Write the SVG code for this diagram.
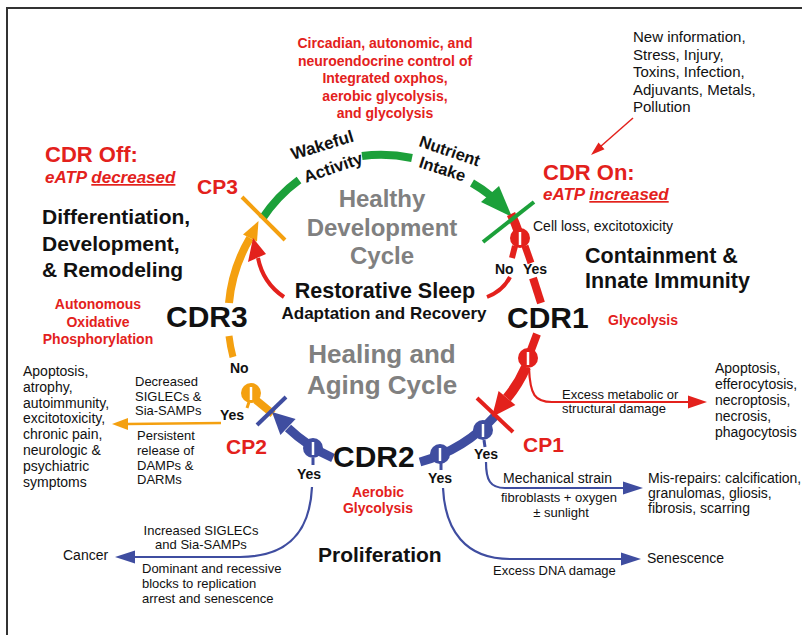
<svg xmlns="http://www.w3.org/2000/svg" width="802" height="635" viewBox="0 0 802 635">
<style>
text{font-family:"Liberation Sans",Arial,Helvetica,sans-serif;fill:#111}
.b{font-weight:bold}
.r{fill:#E3211C}
.gr{fill:#808080}
.c{text-anchor:middle}
.thr{stroke:#E3211C;fill:none}
.thg{stroke:#1CA03A;fill:none}
.tho{stroke:#F4A010;fill:none}
.thb{stroke:#3F4DA0;fill:none}
.wl{stroke:#fff;stroke-width:2.5}
</style>
<rect x="0" y="0" width="802" height="635" fill="#fff"/>
<path d="M7 635 V8 H802" fill="none" stroke="#333" stroke-width="2"/>

<g id="connectors">
  <!-- green healthy arc -->
  <path class="thg" stroke-width="8" d="M262 219 A152 152 0 0 1 299 180"/>
  <path class="thg" stroke-width="8" d="M362 156 A152 152 0 0 1 412 158"/>
  <path class="thg" stroke-width="8" d="M472 183 A152 152 0 0 1 491 196"/>
  <polygon fill="#1CA03A" points="481,202 499,186 512,217"/>
  <!-- orange -->
  <path class="tho" stroke-width="8" d="M229 303 A155 155 0 0 1 250 238"/>
  <polygon fill="#F4A010" points="243,234.5 257,241.5 258.5,221"/>
  <path class="tho" stroke-width="7" d="M229 336 A155 155 0 0 0 233 357"/>
  <path class="tho" stroke-width="8" d="M256 400 L273 414"/>
  <path class="tho" stroke-width="3" d="M249 402 L247 408"/>
  <path class="tho" stroke-width="2.5" d="M221 423 L127 424"/>
  <polygon fill="#F4A010" points="128,418 128,430 112,424"/>
  <!-- blue -->
  <path class="thb" stroke-width="9" d="M496 415 A158 158 0 0 1 420 462"/>
  <path class="thb" stroke-width="9" d="M333 458 A158 158 0 0 1 288 428"/>
  <polygon fill="#3F4DA0" points="295.6,419 280.4,435 272,412"/>
  <path class="thb" stroke-width="3" d="M484 440 L485 447"/>
  <path class="thb" stroke-width="3" d="M441 463 L441 470"/>
  <path class="thb" stroke-width="3" d="M313 458 L313 465"/>
  <path class="thb" stroke-width="2.2" d="M486 462 C486 480 490 488 505 488 L624 488"/>
  <polygon fill="#3F4DA0" points="623,481.5 623,494.5 643,488"/>
  <path class="thb" stroke-width="2.2" d="M443 488 C445 530 465 559 510 559 L622 559"/>
  <polygon fill="#3F4DA0" points="621,552.5 621,565.5 641,559"/>
  <path class="thb" stroke-width="2.2" d="M312 487 C310 530 290 557 240 557 L134 557"/>
  <polygon fill="#3F4DA0" points="135,550.5 135,563.5 115,557"/>
  <!-- red -->
  <path class="thr" stroke-width="9" d="M511 214 A152 152 0 0 1 518 231"/>
  <path class="thr" stroke-width="6" d="M515 246 L512 258"/>
  <path class="thr" stroke-width="7" d="M525 246 L531 263"/>
  <path class="thr" stroke-width="8" d="M533 278 L541 303"/>
  <path class="thr" stroke-width="8" d="M537 334 L531 350"/>
  <path class="thr" stroke-width="10" d="M526 367 Q518 385 507 398"/>
  <polygon fill="#E3211C" points="498.6,390.9 515.4,405.1 492,417"/>
  <path class="thr" stroke-width="2.2" d="M529 368 C530 395 535 402 552 402 L688 402"/>
  <polygon fill="#E3211C" points="688,395.5 688,408.5 707,402"/>
  <path class="thr" stroke-width="4" d="M510 277 Q503 291 487 297"/>
  <path class="thr" stroke-width="4" d="M284 297 Q263 283 258 258"/>
  <polygon fill="#E3211C" points="248,262 266,254 253,238"/>
  <path class="thr" stroke-width="1.5" d="M633 118 L600 147"/>
  <polygon fill="#E3211C" points="604.5,149.2 598.5,142.4 591,155"/>
  <!-- valves -->
  <circle cx="520" cy="238" r="10" fill="#E3211C"/>
  <line class="wl" x1="520" y1="232" x2="520" y2="245"/>
  <circle cx="528" cy="358" r="10" fill="#E3211C"/>
  <line class="wl" x1="528" y1="352" x2="528" y2="365"/>
  <circle cx="251" cy="393" r="10" fill="#F4A010"/>
  <line class="wl" x1="251" y1="387" x2="251" y2="400"/>
  <circle cx="483" cy="430" r="10" fill="#3F4DA0"/>
  <line class="wl" x1="483" y1="424" x2="483" y2="437"/>
  <circle cx="440" cy="454" r="10" fill="#3F4DA0"/>
  <line class="wl" x1="440" y1="448" x2="440" y2="461"/>
  <circle cx="313" cy="448" r="10" fill="#3F4DA0"/>
  <line class="wl" x1="313" y1="442" x2="313" y2="455"/>
  <!-- checkpoints -->
  <path class="tho" stroke-width="4" d="M242 197 L285 240"/>
  <path class="thg" stroke-width="4" d="M483 242 L534 202"/>
  <path class="thb" stroke-width="4" d="M286 397 L257 425"/>
  <path class="thr" stroke-width="4" d="M477 398 L513 432"/>
</g>

<g id="top-control">
  <text class="b r c" font-size="14"><tspan x="385" y="48">Circadian, autonomic, and</tspan><tspan x="385" y="65.5">neuroendocrine control of</tspan><tspan x="385" y="83">Integrated oxphos,</tspan><tspan x="385" y="100.5">aerobic glycolysis,</tspan><tspan x="385" y="118">and glycolysis</tspan></text>
</g>
<g id="triggers">
  <text font-size="15"><tspan x="633" y="42">New information,</tspan><tspan x="633" y="60">Stress, Injury,</tspan><tspan x="633" y="77">Toxins, Infection,</tspan><tspan x="633" y="95">Adjuvants, Metals,</tspan><tspan x="633" y="112">Pollution</tspan></text>
</g>
<g id="cdr-on">
  <text class="b r" font-size="22" x="543" y="180">CDR On:</text>
  <text class="b r" font-size="17" font-style="italic" x="543" y="200">eATP <tspan text-decoration="underline">increased</tspan></text>
</g>
<g id="cdr-off">
  <text class="b r" font-size="22" x="45" y="162">CDR Off:</text>
  <text class="b r" font-size="17" font-style="italic" x="45" y="183">eATP <tspan text-decoration="underline">decreased</tspan></text>
</g>
<g id="cycle-labels">
  <text class="b" font-size="17" transform="translate(293,160) rotate(-17)">Wakeful</text>
  <text class="b" font-size="17" transform="translate(306,183) rotate(-19)">Activity</text>
  <text class="b" font-size="16.5" transform="translate(418,146) rotate(19)">Nutrient</text>
  <text class="b" font-size="16.5" transform="translate(418,167) rotate(18)">Intake</text>
</g>
<g id="healthy-cycle">
  <text class="b gr c" font-size="24"><tspan x="382" y="207">Healthy</tspan><tspan x="382" y="236">Development</tspan><tspan x="382" y="264">Cycle</tspan></text>
</g>
<g id="sleep">
  <text class="b c" font-size="21.5" x="385" y="298">Restorative Sleep</text>
  <text class="b c" font-size="17" x="384" y="319">Adaptation and Recovery</text>
</g>
<g id="healing-cycle">
  <text class="b gr c" font-size="26"><tspan x="382" y="363">Healing and</tspan><tspan x="382" y="394">Aging Cycle</tspan></text>
</g>
<g id="cp3"><text class="b r" font-size="21" x="197" y="194">CP3</text></g>
<g id="cp2"><text class="b r" font-size="21" x="226" y="454">CP2</text></g>
<g id="cp1"><text class="b r" font-size="21" x="523" y="452">CP1</text></g>
<g id="cdr3">
  <text class="b" font-size="30" x="166" y="327">CDR3</text>
  <text class="b" font-size="21"><tspan x="42" y="224">Differentiation,</tspan><tspan x="42" y="251">Development,</tspan><tspan x="42" y="277">&amp; Remodeling</tspan></text>
  <text class="b r c" font-size="14"><tspan x="98" y="309">Autonomous</tspan><tspan x="98" y="327">Oxidative</tspan><tspan x="98" y="344">Phosphorylation</tspan></text>
</g>
<g id="cdr1">
  <text class="b" font-size="30" x="507" y="328">CDR1</text>
  <text font-size="14" x="533" y="231">Cell loss, excitotoxicity</text>
  <text class="b" font-size="21.5"><tspan x="585" y="263">Containment &amp;</tspan><tspan x="585" y="288">Innate Immunity</tspan></text>
  <text class="b r" font-size="14" x="608" y="325">Glycolysis</text>
  <text class="b" font-size="14" x="495" y="274">No</text>
  <text class="b" font-size="14" x="523" y="274">Yes</text>
</g>
<g id="cdr2">
  <text class="b" font-size="30" x="333" y="467">CDR2</text>
  <text class="b r c" font-size="14"><tspan x="378" y="497">Aerobic</tspan><tspan x="378" y="513">Glycolysis</tspan></text>
  <text class="b" font-size="21" x="318" y="562">Proliferation</text>
  <text class="b" font-size="14" x="297" y="479">Yes</text>
  <text class="b" font-size="14" x="428" y="483">Yes</text>
  <text class="b" font-size="14" x="474" y="459">Yes</text>
</g>
<g id="cp2-branch">
  <text class="b" font-size="14" x="230" y="373">No</text>
  <text class="b" font-size="14" x="220" y="420">Yes</text>
  <text font-size="13"><tspan x="135" y="386">Decreased</tspan><tspan x="135" y="401">SIGLECs &amp;</tspan><tspan x="135" y="415">Sia-SAMPs</tspan></text>
  <text font-size="13"><tspan x="137" y="440">Persistent</tspan><tspan x="137" y="455">release of</tspan><tspan x="137" y="470">DAMPs &amp;</tspan><tspan x="137" y="484">DARMs</tspan></text>
</g>
<g id="chronic-outcomes">
  <text font-size="14"><tspan x="23" y="376">Apoptosis,</tspan><tspan x="23" y="392">atrophy,</tspan><tspan x="23" y="408">autoimmunity,</tspan><tspan x="23" y="423">excitotoxicity,</tspan><tspan x="23" y="439">chronic pain,</tspan><tspan x="23" y="455">neurologic &amp;</tspan><tspan x="23" y="471">psychiatric</tspan><tspan x="23" y="487">symptoms</tspan></text>
</g>
<g id="cancer">
  <text font-size="14" x="63" y="560">Cancer</text>
  <text class="c" font-size="13"><tspan x="201" y="535">Increased SIGLECs</tspan><tspan x="201" y="549">and Sia-SAMPs</tspan></text>
  <text font-size="13"><tspan x="142" y="573">Dominant and recessive</tspan><tspan x="142" y="588">blocks to replication</tspan><tspan x="142" y="603">arrest and senescence</tspan></text>
</g>
<g id="cell-death">
  <text font-size="13"><tspan x="562" y="399">Excess metabolic or</tspan><tspan x="562" y="413">structural damage</tspan></text>
  <text font-size="14"><tspan x="715" y="373">Apoptosis,</tspan><tspan x="715" y="389">efferocytosis,</tspan><tspan x="715" y="405">necroptosis,</tspan><tspan x="715" y="421">necrosis,</tspan><tspan x="715" y="437">phagocytosis</tspan></text>
</g>
<g id="mis-repairs">
  <text font-size="14" x="503" y="483">Mechanical strain</text>
  <text class="c" font-size="13"><tspan x="559" y="502">fibroblasts + oxygen</tspan><tspan x="561" y="517">± sunlight</tspan></text>
  <text font-size="14"><tspan x="648" y="483">Mis-repairs: calcification,</tspan><tspan x="648" y="498">granulomas, gliosis,</tspan><tspan x="648" y="513">fibrosis, scarring</tspan></text>
</g>
<g id="senescence">
  <text font-size="13" x="493" y="575">Excess DNA damage</text>
  <text font-size="14" x="647" y="563">Senescence</text>
</g>
</svg>
